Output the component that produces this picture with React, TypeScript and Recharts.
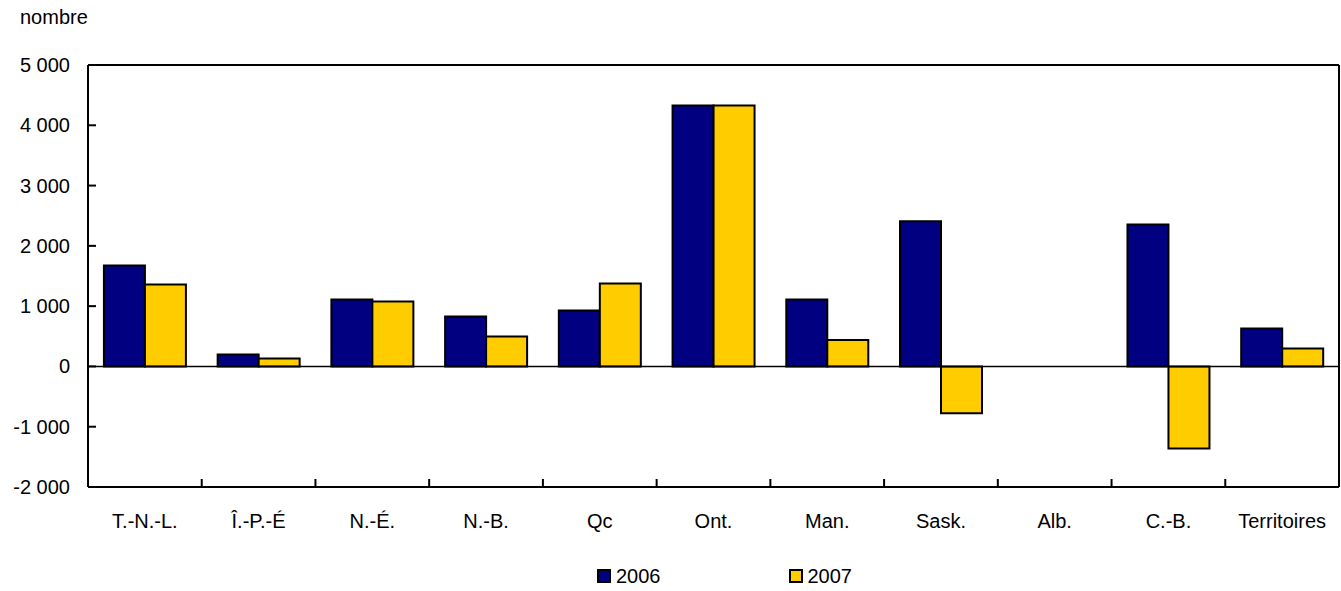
import { BarChart, Bar, XAxis, YAxis, ReferenceLine, Legend } from 'recharts';

const provinces = ['T.-N.-L.', 'Î.-P.-É', 'N.-É.', 'N.-B.', 'Qc', 'Ont.', 'Man.', 'Sask.', 'Alb.', 'C.-B.', 'Territoires'];
const values2006 = [1675, 199, 1111, 829, 929, 4328, 1110, 2410, 0, 2355, 630];
const values2007 = [1360, 133, 1078, 497, 1376, 4328, 440, -775, 0, -1360, 299];
const yTicks = [-2000, -1000, 0, 1000, 2000, 3000, 4000, 5000];

const series = [
  { key: 'y2006', name: '2006', color: '#000080' },
  { key: 'y2007', name: '2007', color: '#FFCC00' },
];

const data = provinces.map((p, i) => ({ name: p, y2006: values2006[i], y2007: values2007[i] }));

const FONT = '"Liberation Sans", Arial, sans-serif';

const fmt = (v: number) => {
  const s = Math.abs(v).toString().replace(/\B(?=(\d{3})+(?!\d))/g, ' ');
  return v < 0 ? '-' + s : s;
};

// category labels plus the little separator ticks between categories
function XTick(props: any) {
  const { x, y, payload, index, visibleTicksCount } = props;
  const half = payload.offset ?? (1341 - 88 - 2) / 11 / 2;
  const last = (visibleTicksCount ?? provinces.length) - 1;
  return (
    <g>
      <text x={x} y={y + 41} textAnchor="middle" fontSize={20} fontFamily={FONT} fill="#000">
        {payload.value}
      </text>
      {index < last && (
        <line x1={x + half} x2={x + half} y1={y} y2={y - 8} stroke="#000" strokeWidth={2} />
      )}
    </g>
  );
}

function YTick(props: any) {
  const { x, y, payload } = props;
  return (
    <g>
      <text x={x - 18} y={y + 7} textAnchor="end" fontSize={20} fontFamily={FONT} fill="#000">
        {fmt(payload.value)}
      </text>
      <line x1={x} x2={x + 8} y1={y} y2={y} stroke="#000" strokeWidth={2} />
    </g>
  );
}

function LegendBox() {
  return (
    <div style={{ display: 'flex', alignItems: 'center', height: 30, paddingLeft: 597, fontFamily: FONT, fontSize: 20, color: '#000' }}>
      {series.map((s, i) => (
        <div key={s.key} style={{ display: 'flex', alignItems: 'center', marginLeft: i === 0 ? 0 : 128 }}>
          <span style={{ boxSizing: 'border-box', width: 14, height: 14, background: s.color, border: '2px solid #000', display: 'inline-block' }} />
          <span style={{ marginLeft: 5 }}>{s.name}</span>
        </div>
      ))}
    </div>
  );
}

export default function App() {
  return (
    <div style={{ position: 'absolute', left: 0, top: 0, width: 1341, height: 591, background: '#fff' }}>
      <div style={{ position: 'absolute', left: 20, top: 6, fontFamily: FONT, fontSize: 20, color: '#000' }}>nombre</div>
      <BarChart
        width={1341}
        height={591}
        data={data}
        margin={{ top: 65, right: 2, bottom: 0, left: 0 }}
        barCategoryGap="14%"
        barGap={0}
      >
        <XAxis
          dataKey="name"
          height={74}
          tickSize={0}
          tickMargin={0}
          tickLine={false}
          interval={0}
          axisLine={{ stroke: '#000', strokeWidth: 2 }}
          tick={<XTick />}
        />
        <YAxis
          width={88}
          domain={[-2000, 5000]}
          ticks={yTicks}
          interval={0}
          tickSize={0}
          tickMargin={0}
          tickLine={false}
          axisLine={{ stroke: '#000', strokeWidth: 2 }}
          tick={<YTick />}
        />
        <ReferenceLine y={0} stroke="#000" strokeWidth={1.5} />
        {series.map((s) => (
          <Bar key={s.key} dataKey={s.key} name={s.name} fill={s.color} stroke="#000" strokeWidth={2} isAnimationActive={false} />
        ))}
        {/* plot frame: top and right edges */}
        <ReferenceLine y={5000} stroke="#000" strokeWidth={2} />
        <ReferenceLine x="Territoires" position="end" stroke="#000" strokeWidth={2} />
        <Legend verticalAlign="bottom" wrapperStyle={{ left: 0, bottom: 0, width: 1341, height: 30 }} content={<LegendBox />} />
      </BarChart>
    </div>
  );
}
